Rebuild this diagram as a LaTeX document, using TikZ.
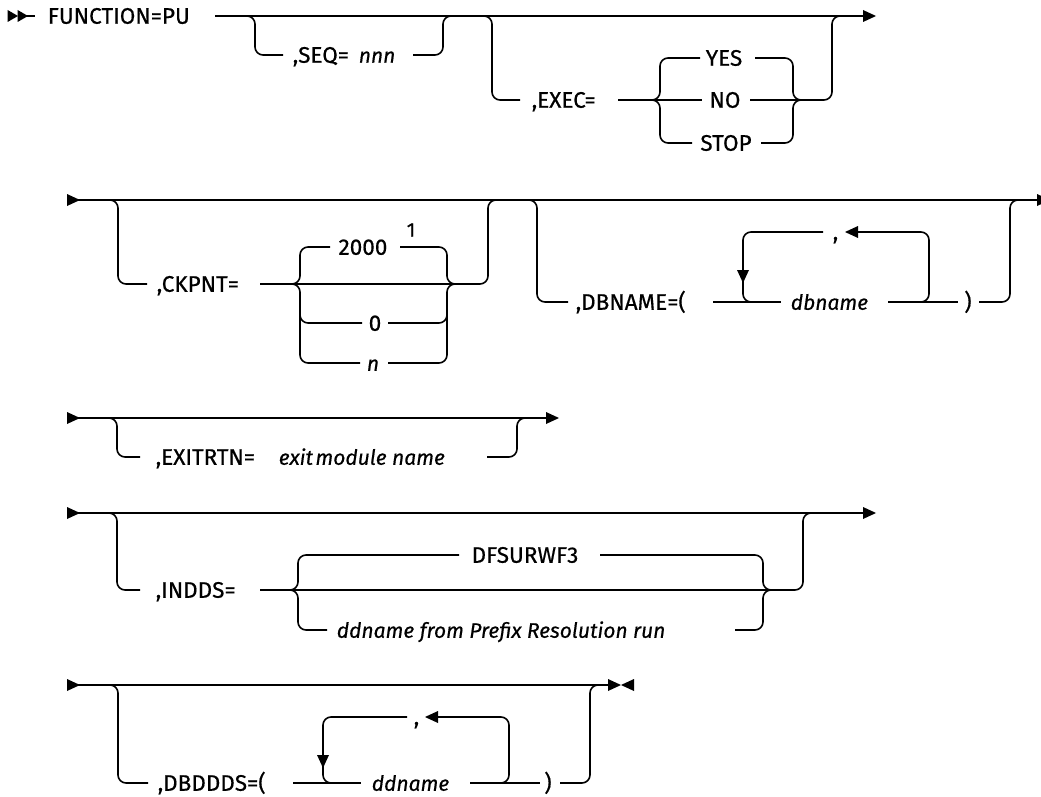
\documentclass[tikz,border=0pt]{standalone}
\usepackage{fontspec}
\setmainfont{Fira Sans}[FakeBold=0.5]
\begin{document}
\begin{tikzpicture}[x=1pt,y=-1pt, line width=1.6pt,
  rc/.style={rounded corners=8pt},
  lbl/.style={font=\fontsize{22.5}{26}\selectfont, inner sep=0pt, text height=15.5pt, text depth=0pt, anchor=west},
  ilbl/.style={lbl, font=\fontsize{21}{25}\selectfont\itshape},
  rtri/.pic={\fill (-13,-6) -- (0,0) -- (-13,6) -- cycle;},
  ltri/.pic={\fill (13,-6) -- (0,0) -- (13,6) -- cycle;},
  dtri/.pic={\fill (-6,-13) -- (0,0) -- (6,-13) -- cycle;}]
\path[use as bounding box] (0,0) rectangle (1041,797);
\clip (0,0) rectangle (1041,797);

% ---------------- Row 1 ----------------
\pic[xscale=0.8] at (18,16) {rtri};
\pic[xscale=0.8] at (28,16) {rtri};
\draw (26,16) -- (35,16);
\node[lbl] (fn) at (47,16) {FUNCTION=PU};
\draw (215,16) -- (864,16);
\pic at (876,16) {rtri};
% SEQ
\draw[rc] (240,16) -- (255,16) -- (255,55) -- (283,55);
\node[lbl] (seq) at (292,55) {,SEQ=};
\node[ilbl] (nnn) at (358,55) {nnn};
\draw[rc] (413,55) -- (443,55) -- (443,16) -- (458,16);
% EXEC
\draw[rc] (476,16) -- (492,16) -- (492,100) -- (520,100);
\node[lbl] (exec) at (531,100) {,EXEC=};
\draw (618,100) -- (702,100);
\draw[rc] (640,100) -- (660,100) -- (660,58) -- (700,58);
\draw[rc] (640,100) -- (660,100) -- (660,143) -- (692,143);
\node[lbl, anchor=center] (yes) at (724,58) {YES};
\node[lbl, anchor=center] (no) at (725,100) {NO};
\node[lbl, anchor=center] (stop) at (726,143) {STOP};
\draw[rc] (755,58) -- (793,58) -- (793,100) -- (812,100);
\draw[rc] (761,143) -- (793,143) -- (793,100) -- (812,100);
\draw[rc] (750,100) -- (832,100) -- (832,16) -- (850,16);

% ---------------- Row 2 ----------------
\pic at (80,200) {rtri};
\draw (78,200) -- (1040,200);
\pic at (1050,200) {rtri};
% CKPNT
\draw[rc] (100,200) -- (118,200) -- (118,284) -- (147,284);
\node[lbl] (ck) at (156,284) {,CKPNT=};
\draw[rc] (260,284) -- (488,284) -- (488,200) -- (505,200);
\draw[rc] (280,284) -- (300,284) -- (300,247) -- (330,247);
\draw[rc] (280,284) -- (300,284) -- (300,363) -- (360,363);
\draw[rc] (300,300) -- (300,323) -- (362,323);
\node[lbl, anchor=center] (d2000) at (363,247) {2000};
\node[font=\fontsize{19.5}{22}\selectfont, inner sep=0pt] (fn1) at (411,230) {1};
\node[lbl, anchor=center] (zero) at (375,323) {0};
\node[ilbl, anchor=center] (nn) at (373,363) {n};
\draw[rc] (400,247) -- (447,247) -- (447,284) -- (465,284);
\draw[rc] (388,363) -- (447,363) -- (447,284) -- (465,284);
\draw[rc] (388,323) -- (447,323) -- (447,300);
% DBNAME
\draw[rc] (515,200) -- (537,200) -- (537,302) -- (568,302);
\node[lbl] (dbn) at (575,302) {,DBNAME=(};
\draw (713,302) -- (781,302);
\node[ilbl] (dbname) at (790,302) {dbname};
\draw (888,302) -- (958,302);
\node[lbl, anchor=center] (rp1) at (968,302) {)};
\draw[rc] (979,302) -- (1010,302) -- (1010,200) -- (1030,200);
\draw[rc] (823,232) -- (743,232) -- (743,302) -- (775,302);
\pic at (743,283) {dtri};
\draw[rc] (900,302) -- (929,302) -- (929,232) -- (857,232);
\pic at (845,232) {ltri};
\node[lbl] (cm1) at (832,232) {,};

% ---------------- Row 3 ----------------
\pic at (80,418) {rtri};
\draw (78,418) -- (548,418);
\pic at (559,418) {rtri};
\draw[rc] (100,418) -- (117,418) -- (117,457) -- (140,457);
\node[lbl] (exit) at (155,457) {,EXITRTN=};
\node[ilbl] (exitmod) at (278,457) {exit\hspace{0.12em}module name};
\draw[rc] (487,457) -- (517,457) -- (517,418) -- (535,418);

% ---------------- Row 4 ----------------
\pic at (80,513) {rtri};
\draw (78,513) -- (865,513);
\pic at (876,513) {rtri};
\draw[rc] (100,513) -- (117,513) -- (117,590) -- (140,590);
\node[lbl] (indds) at (155,590) {,INDDS=};
\draw[rc] (260,590) -- (803,590) -- (803,513) -- (820,513);
\draw[rc] (280,590) -- (298,590) -- (298,555) -- (459,555);
\draw[rc] (280,590) -- (298,590) -- (298,630) -- (327,630);
\node[lbl, anchor=center] (dfs) at (525,555) {DFSURWF3};
\node[ilbl] (ddfrom) at (336,630) {ddname from Prefix Resolution run};
\draw[rc] (600,555) -- (763,555) -- (763,590) -- (780,590);
\draw[rc] (735,630) -- (763,630) -- (763,590) -- (780,590);

% ---------------- Row 5 ----------------
\pic at (80,685) {rtri};
\draw (78,685) -- (611,685);
\pic at (621,685) {rtri};
\pic at (621,685) {ltri};
\draw[rc] (100,685) -- (118,685) -- (118,783) -- (148,783);
\node[lbl] (dbd) at (157,783) {,DBDDDS=(};
\draw (293,783) -- (361,783);
\node[ilbl] (ddname) at (371,783) {ddname};
\draw (470,783) -- (540,783);
\node[lbl, anchor=center] (rp2) at (548,783) {)};
\draw[rc] (560,783) -- (590,783) -- (590,685) -- (605,685);
\draw[rc] (407,717) -- (323,717) -- (323,783) -- (355,783);
\pic at (323,768) {dtri};
\draw[rc] (480,783) -- (509,783) -- (509,717) -- (437,717);
\pic at (425,717) {ltri};
\node[lbl] (cm2) at (413,717) {,};
\end{tikzpicture}
\end{document}
